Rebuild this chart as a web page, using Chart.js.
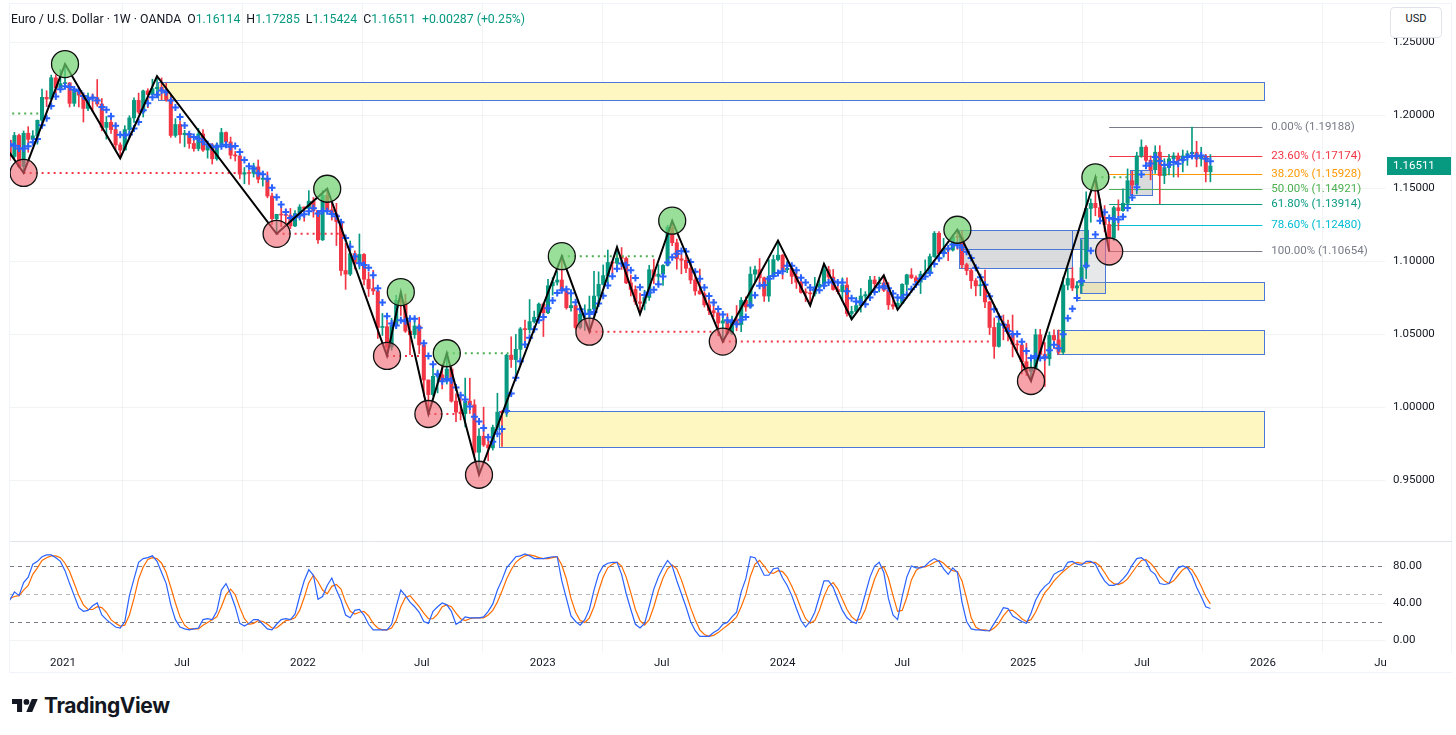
<!DOCTYPE html>
<html>
<head>
<meta charset="utf-8">
<script src="https://cdn.jsdelivr.net/npm/chart.js@4.4.1/dist/chart.umd.min.js"></script>
<style>
html,body{margin:0;padding:0;background:#fff;width:1456px;height:735px;overflow:hidden;font-family:Roboto,"Liberation Sans",sans-serif;}
#frame{position:absolute;left:9px;top:3px;width:1443px;height:670px;border:1px solid #f0f3fa;box-sizing:border-box;}
#wrap{position:absolute;left:0;top:0;width:1456px;height:680px;}
#hdr{position:absolute;left:11px;top:11px;font-size:12.3px;color:#131722;white-space:nowrap;line-height:16px;}
#hdr .k{margin-left:6px;}
#hdr .g{color:#089981;}
#usd{position:absolute;left:1390px;top:7px;width:52px;height:31px;background:#fff;border:1px solid #e0e3eb;border-radius:4px;box-sizing:border-box;font-size:11px;color:#131722;text-align:center;line-height:22px;}
#cover{position:absolute;left:1386px;top:653px;width:70px;height:19px;background:#fff;}
#brand{position:absolute;left:12px;top:692px;height:26px;display:flex;align-items:center;}
#brand span{font-family:Inter,Roboto,sans-serif;font-weight:700;font-size:21px;color:#131722;letter-spacing:-0.4px;margin-left:6px;}
</style>
</head>
<body>
<div id="frame"></div>
<div id="wrap"><canvas id="c" width="1456" height="680"></canvas></div>
<div id="hdr"><span>Euro / U.S. Dollar · 1W · OANDA</span><span class="k">O</span><span class="g">1.16114</span><span class="k">H</span><span class="g">1.17285</span><span class="k">L</span><span class="g">1.15424</span><span class="k">C</span><span class="g">1.16511</span><span class="k g">+0.00287 (+0.25%)</span></div>
<div id="usd">USD</div>
<div id="cover"></div>
<div id="brand"><svg width="26" height="19" viewBox="0 0 36 26"><path d="M14 22H7V11H0V4h14v18z" fill="#131722"/><circle cx="20" cy="8" r="4" fill="#131722"/><path d="M28 22h-8.2l7.6-18h8.2L28 22z" fill="#131722"/></svg><span>TradingView</span></div>
<script>
// ---------- DATA (weekly EUR/USD bars, first bar = week of 2020-10-12) ----------
const firstWeek = '2020-10-12';
const opens = [
1.1827,1.1716,1.1860,1.1647,1.1875,1.1833,1.1857,1.1964,1.2121,1.2110,
1.2255,1.2186,1.2215,1.2220,1.2080,1.2170,1.2136,1.2045,1.2120,1.2118,
1.2075,1.1915,1.1950,1.1900,1.1795,1.1760,1.1900,1.1980,1.2100,1.2020,
1.2165,1.2140,1.2180,1.2190,1.2165,1.2105,1.1860,1.1935,1.1865,1.1875,
1.1805,1.1770,1.1870,1.1760,1.1795,1.1700,1.1795,1.1880,1.1815,1.1725,
1.1720,1.1595,1.1605,1.1600,1.1645,1.1560,1.1565,1.1445,1.1290,1.1320,
1.1315,1.1312,1.1240,1.1325,1.1370,1.1360,1.1410,1.1345,1.1145,1.1450,
1.1350,1.1320,1.1270,1.0935,1.0910,1.1050,1.0985,1.1045,1.0875,1.0810,
1.0795,1.0545,1.0550,1.0410,1.0560,1.0730,1.0720,1.0520,1.0495,1.0555,
1.0425,1.0185,1.0085,1.0210,1.0220,1.0180,1.0260,1.0040,0.9965,0.9955,
1.0040,1.0015,0.9690,0.9800,0.9740,0.9720,0.9860,0.9965,0.9960,1.0355,
1.0325,1.0395,1.0535,1.0530,1.0585,1.0615,1.0705,1.0645,1.0830,1.0855,
1.0870,1.0795,1.0680,1.0695,1.0545,1.0635,1.0640,1.0670,1.0760,1.0840,
1.0900,1.0990,1.0985,1.1020,1.1018,1.0850,1.0805,1.0720,1.0710,1.0750,
1.0940,1.0895,1.0910,1.0970,1.1230,1.1125,1.1015,1.1005,1.0950,1.0870,
1.0795,1.0775,1.0700,1.0660,1.0645,1.0575,1.0590,1.0505,1.0595,1.0565,
1.0730,1.0685,1.0910,1.0940,1.0885,1.0760,1.0895,1.1010,1.1040,1.0940,
1.0950,1.0895,1.0855,1.0785,1.0782,1.0775,1.0820,1.0840,1.0940,1.0890,
1.0805,1.0790,1.0835,1.0640,1.0655,1.0695,1.0760,1.0770,1.0870,1.0845,
1.0850,1.0800,1.0700,1.0690,1.0710,1.0840,1.0905,1.0885,1.0855,1.0910,
1.0915,1.1030,1.1190,1.1050,1.1085,1.1075,1.1165,1.1163,1.0975,1.0935,
1.0865,1.0830,1.0835,1.0720,1.0545,1.0415,1.0575,1.0565,1.0505,1.0430,
1.0425,1.0310,1.0245,1.0270,1.0495,1.0360,1.0330,1.0490,1.0460,1.0375,
1.0835,1.0880,1.0815,1.0830,1.0955,1.1360,1.1395,1.1365,1.1300,1.1250,
1.1160,1.1365,1.1345,1.1395,1.1550,1.1520,1.1720,1.1780,1.1690,1.1625,
1.1745,1.1585,1.1640,1.1700,1.1720,1.1685,1.1720,1.1735,1.1745,1.1700,
1.1715,1.1611];
const highs = [
1.1830,1.1881,1.1870,1.1891,1.1920,1.1893,1.1965,1.2177,1.2166,1.2273,
1.2274,1.2310,1.2349,1.2222,1.2190,1.2189,1.2150,1.2150,1.2145,1.2243,
1.2113,1.1990,1.1990,1.1945,1.1810,1.1927,1.1995,1.2117,1.2150,1.2171,
1.2180,1.2245,1.2266,1.2254,1.2218,1.2143,1.1975,1.1960,1.1895,1.1880,
1.1830,1.1909,1.1900,1.1805,1.1805,1.1810,1.1909,1.1885,1.1849,1.1750,
1.1730,1.1640,1.1625,1.1670,1.1692,1.1615,1.1610,1.1465,1.1320,1.1383,
1.1355,1.1360,1.1345,1.1386,1.1370,1.1482,1.1435,1.1345,1.1483,1.1495,
1.1395,1.1395,1.1275,1.1121,1.1137,1.1070,1.1185,1.1050,1.0925,1.0936,
1.0795,1.0641,1.0593,1.0608,1.0765,1.0787,1.0773,1.0601,1.0615,1.0615,
1.0436,1.0185,1.0278,1.0254,1.0293,1.0368,1.0275,1.0090,1.0079,1.0198,
1.0197,1.0050,0.9853,0.9999,0.9809,0.9876,1.0094,0.9976,1.0362,1.0481,
1.0497,1.0545,1.0595,1.0736,1.0657,1.0713,1.0712,1.0875,1.0887,1.0929,
1.1033,1.0800,1.0805,1.0705,1.0691,1.0700,1.0760,1.0930,1.0926,1.0973,
1.1075,1.1000,1.1095,1.1092,1.1028,1.0904,1.0830,1.0780,1.0800,1.0971,
1.1012,1.0975,1.0975,1.1245,1.1276,1.1150,1.1046,1.1065,1.0990,1.0930,
1.0945,1.0790,1.0770,1.0737,1.0650,1.0640,1.0640,1.0622,1.0695,1.0750,
1.0755,1.0960,1.0965,1.1017,1.0890,1.1009,1.1040,1.1140,1.1045,1.0998,
1.0970,1.0932,1.0890,1.0810,1.0805,1.0888,1.0870,1.0981,1.0964,1.0942,
1.0843,1.0885,1.0885,1.0690,1.0752,1.0812,1.0790,1.0895,1.0895,1.0890,
1.0902,1.0852,1.0761,1.0750,1.0845,1.0910,1.0948,1.0898,1.0930,1.1008,
1.1048,1.1202,1.1202,1.1155,1.1100,1.1180,1.1214,1.1210,1.0985,1.0945,
1.0880,1.0905,1.0937,1.0725,1.0610,1.0597,1.0630,1.0595,1.0630,1.0456,
1.0440,1.0437,1.0353,1.0533,1.0532,1.0442,1.0514,1.0528,1.0528,1.0889,
1.0947,1.0955,1.0860,1.1146,1.1474,1.1425,1.1573,1.1425,1.1380,1.1295,
1.1375,1.1419,1.1495,1.1631,1.1615,1.1745,1.1830,1.1790,1.1720,1.1789,
1.1790,1.1700,1.1730,1.1742,1.1740,1.1760,1.1755,1.1918,1.1820,1.1779,
1.1730,1.1729];
const lows = [
1.1689,1.1703,1.1640,1.1603,1.1745,1.1800,1.1800,1.1925,1.2058,1.2110,
1.2130,1.2180,1.2190,1.2055,1.2060,1.2055,1.1952,1.2030,1.2023,1.2060,
1.1892,1.1835,1.1874,1.1762,1.1704,1.1760,1.1870,1.1950,1.2010,1.1986,
1.2050,1.2140,1.2133,1.2105,1.2094,1.1847,1.1848,1.1807,1.1782,1.1772,
1.1752,1.1755,1.1750,1.1705,1.1664,1.1690,1.1795,1.1800,1.1700,1.1685,
1.1563,1.1529,1.1525,1.1575,1.1535,1.1513,1.1433,1.1250,1.1185,1.1235,
1.1260,1.1222,1.1235,1.1280,1.1272,1.1313,1.1300,1.1121,1.1140,1.1340,
1.1280,1.1106,1.0902,1.0806,1.0900,1.0945,1.0945,1.0837,1.0757,1.0770,
1.0470,1.0490,1.0350,1.0389,1.0540,1.0627,1.0511,1.0359,1.0470,1.0365,
1.0072,0.9952,1.0075,1.0097,1.0124,1.0157,1.0033,0.9900,0.9911,0.9864,
0.9956,0.9668,0.9536,0.9730,0.9632,0.9705,0.9845,0.9730,0.9935,1.0271,
1.0225,1.0290,1.0445,1.0505,1.0575,1.0610,1.0483,1.0640,1.0766,1.0835,
1.0795,1.0670,1.0656,1.0533,1.0534,1.0524,1.0516,1.0635,1.0715,1.0835,
1.0830,1.0910,1.0965,1.0942,1.0845,1.0760,1.0702,1.0635,1.0665,1.0730,
1.0845,1.0835,1.0833,1.0965,1.1105,1.0944,1.0912,1.0920,1.0845,1.0766,
1.0772,1.0685,1.0632,1.0617,1.0488,1.0448,1.0496,1.0495,1.0522,1.0516,
1.0655,1.0680,1.0852,1.0830,1.0723,1.0723,1.0888,1.1000,1.0877,1.0920,
1.0845,1.0812,1.0780,1.0722,1.0695,1.0760,1.0796,1.0836,1.0870,1.0800,
1.0775,1.0725,1.0622,1.0601,1.0650,1.0650,1.0725,1.0765,1.0805,1.0788,
1.0790,1.0668,1.0670,1.0666,1.0710,1.0795,1.0880,1.0825,1.0777,1.0880,
1.0900,1.1025,1.1040,1.1026,1.1002,1.1068,1.1080,1.0953,1.0905,1.0812,
1.0761,1.0762,1.0681,1.0496,1.0333,1.0410,1.0460,1.0452,1.0343,1.0385,
1.0226,1.0215,1.0178,1.0265,1.0350,1.0141,1.0285,1.0400,1.0360,1.0360,
1.0803,1.0797,1.0733,1.0780,1.0880,1.1265,1.1310,1.1265,1.1200,1.1065,
1.1140,1.1211,1.1340,1.1370,1.1445,1.1460,1.1710,1.1660,1.1556,1.1600,
1.1392,1.1530,1.1590,1.1575,1.1575,1.1610,1.1655,1.1700,1.1645,1.1650,
1.1542,1.1542];
const closes = [
1.1716,1.1860,1.1647,1.1875,1.1833,1.1857,1.1964,1.2121,1.2110,1.2255,
1.2186,1.2215,1.2220,1.2080,1.2170,1.2136,1.2045,1.2120,1.2118,1.2075,
1.1915,1.1950,1.1900,1.1795,1.1760,1.1900,1.1980,1.2100,1.2020,1.2165,
1.2140,1.2180,1.2190,1.2165,1.2105,1.1860,1.1935,1.1865,1.1875,1.1805,
1.1770,1.1870,1.1760,1.1795,1.1700,1.1795,1.1880,1.1815,1.1725,1.1720,
1.1595,1.1605,1.1600,1.1645,1.1560,1.1565,1.1445,1.1290,1.1320,1.1315,
1.1312,1.1240,1.1325,1.1370,1.1360,1.1410,1.1345,1.1145,1.1450,1.1350,
1.1320,1.1270,1.0935,1.0910,1.1050,1.0985,1.1045,1.0875,1.0810,1.0795,
1.0545,1.0550,1.0410,1.0560,1.0730,1.0720,1.0520,1.0495,1.0555,1.0425,
1.0185,1.0085,1.0210,1.0220,1.0180,1.0260,1.0040,0.9965,0.9955,1.0040,
1.0015,0.9690,0.9800,0.9740,0.9720,0.9860,0.9965,0.9960,1.0355,1.0325,
1.0395,1.0535,1.0530,1.0585,1.0615,1.0705,1.0645,1.0830,1.0855,1.0870,
1.0795,1.0680,1.0695,1.0545,1.0635,1.0640,1.0670,1.0760,1.0840,1.0900,
1.0990,1.0985,1.1020,1.1018,1.0850,1.0805,1.0720,1.0710,1.0750,1.0940,
1.0895,1.0910,1.0970,1.1230,1.1125,1.1015,1.1005,1.0950,1.0870,1.0795,
1.0775,1.0700,1.0660,1.0645,1.0575,1.0590,1.0505,1.0595,1.0565,1.0730,
1.0685,1.0910,1.0940,1.0885,1.0760,1.0895,1.1010,1.1040,1.0940,1.0950,
1.0895,1.0855,1.0785,1.0782,1.0775,1.0820,1.0840,1.0940,1.0890,1.0805,
1.0790,1.0835,1.0640,1.0655,1.0695,1.0760,1.0770,1.0870,1.0845,1.0850,
1.0800,1.0700,1.0690,1.0710,1.0840,1.0905,1.0885,1.0855,1.0910,1.0915,
1.1030,1.1190,1.1050,1.1085,1.1075,1.1165,1.1163,1.0975,1.0935,1.0865,
1.0830,1.0835,1.0720,1.0545,1.0415,1.0575,1.0565,1.0505,1.0430,1.0425,
1.0310,1.0245,1.0270,1.0495,1.0360,1.0330,1.0490,1.0460,1.0375,1.0835,
1.0880,1.0815,1.0830,1.0955,1.1360,1.1395,1.1365,1.1300,1.1250,1.1160,
1.1365,1.1345,1.1395,1.1550,1.1520,1.1720,1.1780,1.1690,1.1625,1.1745,
1.1585,1.1640,1.1700,1.1720,1.1685,1.1720,1.1735,1.1745,1.1700,1.1715,
1.1611,1.1651];
// blue "+" trailing average markers
const crossLine = [
1.1800,1.1790,1.1770,1.1770,1.1786,1.1814,1.1835,1.1930,1.1977,1.2061,
1.2127,1.2177,1.2197,1.2191,1.2174,1.2164,1.2130,1.2110,1.2118,1.2099,
1.2055,1.2036,1.1992,1.1927,1.1864,1.1861,1.1867,1.1907,1.1952,1.2033,
1.2081,1.2121,1.2139,1.2168,1.2156,1.2100,1.2051,1.1986,1.1928,1.1868,
1.1850,1.1837,1.1816,1.1800,1.1779,1.1784,1.1786,1.1797,1.1783,1.1787,
1.1747,1.1692,1.1649,1.1633,1.1601,1.1595,1.1563,1.1501,1.1436,1.1387,
1.1336,1.1295,1.1302,1.1312,1.1321,1.1341,1.1362,1.1326,1.1342,1.1340,
1.1322,1.1307,1.1265,1.1157,1.1097,1.1030,1.0985,1.0973,1.0953,1.0902,
1.0814,1.0715,1.0622,1.0572,1.0559,1.0594,1.0588,1.0605,1.0604,1.0543,
1.0436,1.0349,1.0292,1.0225,1.0176,1.0191,1.0182,1.0133,1.0080,1.0052,
1.0003,0.9933,0.9900,0.9857,0.9793,0.9762,0.9817,0.9849,0.9972,1.0093,
1.0200,1.0314,1.0428,1.0474,1.0532,1.0594,1.0616,1.0676,1.0730,1.0781,
1.0799,1.0806,1.0779,1.0717,1.0670,1.0639,1.0637,1.0650,1.0709,1.0762,
1.0832,1.0895,1.0947,1.0983,1.0973,1.0936,1.0883,1.0821,1.0767,1.0785,
1.0803,1.0841,1.0893,1.0989,1.1026,1.1050,1.1069,1.1065,1.0993,1.0927,
1.0879,1.0818,1.0760,1.0715,1.0671,1.0634,1.0595,1.0582,1.0566,1.0597,
1.0616,1.0697,1.0766,1.0830,1.0836,1.0878,1.0898,1.0918,1.0929,1.0967,
1.0967,1.0936,1.0885,1.0853,1.0818,1.0803,1.0800,1.0831,1.0853,1.0859,
1.0853,1.0852,1.0792,1.0745,1.0723,1.0717,1.0704,1.0750,1.0788,1.0819,
1.0827,1.0813,1.0777,1.0750,1.0748,1.0769,1.0806,1.0839,1.0879,1.0894,
1.0919,1.0980,1.1019,1.1054,1.1086,1.1113,1.1108,1.1093,1.1063,1.1021,
1.0954,1.0888,1.0837,1.0759,1.0669,1.0618,1.0564,1.0521,1.0498,1.0500,
1.0447,1.0383,1.0336,1.0349,1.0336,1.0340,1.0389,1.0427,1.0403,1.0498,
1.0608,1.0673,1.0747,1.0863,1.0968,1.1071,1.1181,1.1275,1.1334,1.1294,
1.1288,1.1284,1.1303,1.1363,1.1435,1.1506,1.1593,1.1652,1.1667,1.1712,
1.1685,1.1657,1.1659,1.1678,1.1666,1.1693,1.1712,1.1721,1.1717,1.1723,
1.1701,1.1684];
// Stochastic %K / %D
const stochK = [
43,52,48,62,68,82,85,90,92,92, 89,85,75,61,48,35,31,32,37,40,
27,22,18,14,13,20,48,66,84,88, 89,91,85,73,61,38,22,14,12,11,
12,13,22,23,22,31,54,61,50,36, 18,15,18,22,22,17,12,11,17,22,
23,22,28,47,64,76,70,44,47,59, 67,54,43,27,24,32,33,27,17,11,
11,11,11,17,36,54,48,41,36,30, 20,18,31,36,40,38,31,17,20,25,
24,24,24,25,31,39,54,65,78,84, 90,91,93,91,88,88,88,89,90,90,
64,45,26,20,16,22,33,54,71,80, 83,84,84,71,50,33,17,13,18,36,
55,68,78,86,80,64,50,36,20,10, 4,4,4,8,11,17,19,25,30,52,
66,90,89,80,70,70,77,78,67,59, 48,34,21,14,20,30,47,64,64,57,
44,32,24,20,18,32,50,68,80,84, 73,45,27,22,47,68,80,78,78,80,
85,88,85,77,71,78,73,41,20,12, 11,11,10,10,18,26,35,34,26,23,
20,18,29,43,52,58,62,71,74,76, 84,85,82,81,85,85,82,72,64,59,
59,61,66,72,81,88,89,85,75,71, 61,60,61,71,78,80,78,70,57,47,
36,34];
const stochD = [
45,47,48,54,59,71,78,86,89,91, 91,89,83,74,61,48,38,33,33,36,
35,30,22,18,15,16,27,45,66,79, 87,89,88,83,73,57,40,25,16,12,
12,12,16,19,22,25,36,49,55,49, 35,23,17,18,21,20,17,13,13,17,
21,22,24,32,46,62,70,63,54,50, 58,60,55,41,31,28,30,31,26,18,
13,11,11,13,21,36,46,48,42,36, 29,23,23,28,36,38,36,29,23,21,
23,24,24,24,27,32,41,53,66,76, 84,88,91,92,91,89,88,88,89,90,
81,66,45,30,21,19,24,36,53,68, 78,82,84,80,68,51,33,21,16,22,
36,53,67,77,81,77,65,50,35,22, 11,6,4,5,8,12,16,20,25,36,
49,69,82,86,80,73,72,75,74,68, 58,47,34,23,18,21,32,47,58,62,
55,44,33,25,21,23,33,50,66,77, 79,67,48,31,32,46,65,75,79,79,
81,84,86,83,78,75,74,64,45,24, 14,11,11,10,13,18,26,32,32,28,
23,20,22,30,41,51,57,64,69,74, 78,82,84,83,83,84,84,80,73,65,
61,60,62,66,73,80,86,87,83,77, 69,64,61,64,70,76,79,76,68,58,
47,39];
// zigzag pivots
const pivotDates = ['2020-08-31','2020-11-02','2021-01-04','2021-03-29','2021-05-24','2021-11-22','2022-02-07','2022-05-09','2022-05-30','2022-07-11','2022-08-08','2022-09-26','2023-01-30','2023-03-13','2023-04-24','2023-05-29','2023-07-17','2023-10-02','2023-12-25','2024-02-12','2024-03-04','2024-04-15','2024-06-03','2024-06-24','2024-09-23','2025-01-13','2025-04-21','2025-05-12'];
const pivotPrices = [1.2011,1.1603,1.2349,1.1704,1.2266,1.1186,1.1495,1.0350,1.0787,0.9952,1.0368,0.9536,1.1033,1.0516,1.1095,1.0635,1.1276,1.0448,1.1140,1.0695,1.0981,1.0601,1.0902,1.0666,1.1214,1.0178,1.1573,1.1065];
// marked swing highs / lows
const highMarkDates = ['2021-01-04','2022-02-07','2022-05-30','2022-08-08','2023-01-30','2023-07-17','2024-09-23','2025-04-21'];
const highMarkPrices = [1.2349,1.1495,1.0787,1.0368,1.1033,1.1276,1.1214,1.1573];
const lowMarkDates = ['2020-11-02','2021-11-22','2022-05-09','2022-07-11','2022-09-26','2023-03-13','2023-10-02','2025-01-13','2025-05-12'];
const lowMarkPrices = [1.1603,1.1186,1.0350,0.9952,0.9536,1.0516,1.0448,1.0178,1.1065];
// dotted break levels
const levelStart = ['2020-08-31','2020-11-02','2021-11-22','2022-05-09','2022-07-11','2022-08-08','2023-01-30','2023-03-13','2023-10-02','2025-04-21'];
const levelEnd   = ['2020-11-30','2021-09-29','2022-03-04','2022-07-05','2022-08-22','2022-11-10','2023-06-22','2023-09-22','2024-11-14','2025-06-12'];
const levelPrice = [1.2011,1.1603,1.1186,1.0350,0.9952,1.0368,1.1033,1.0516,1.0448,1.1573];
const levelIsHigh = [true,false,false,false,false,true,true,false,false,true];
// zones
const yellowStart = ['2021-05-26','2022-10-27','2025-03-22','2025-02-21'];
const yellowEnd   = ['2026-01-02','2026-01-02','2026-01-02','2026-01-02'];
const yellowTop   = [1.2226,0.9973,1.0856,1.0527];
const yellowBottom= [1.2103,0.9726,1.0733,1.0363];
const grayStart = ['2024-09-25','2024-09-25','2025-03-16','2025-03-29','2025-06-13'];
const grayEnd   = ['2025-03-16','2025-03-16','2025-04-10','2025-05-05','2025-07-16'];
const grayTop   = [1.1214,1.1080,1.1214,1.1158,1.1623];
const grayBottom= [1.1080,1.0952,1.1080,1.0781,1.1452];
// fibonacci retracement
const fibStart = '2025-05-12', fibEnd = '2025-12-31';
const fibPct = [0,23.6,38.2,50,61.8,78.6,100];
const fibPrices = [1.19188,1.17174,1.15928,1.14921,1.13914,1.12480,1.10654];
// axes
const priceTicks = [0.95,1.00,1.05,1.10,1.15,1.20,1.25];
const stochTicks = [0,40,80];
const stochLevels = [80,50,20];
const timeTickDates = ['2021-01-01','2021-07-01','2022-01-01','2022-07-01','2023-01-01','2023-07-01','2024-01-01','2024-07-01','2025-01-01','2025-07-01','2026-01-01','2026-07-01'];
const timeTickLabels = ['2021','Jul','2022','Jul','2023','Jul','2024','Jul','2025','Jul','2026','Jul'];
const lastPrice = 1.16511;

// ---------- helpers & styles ----------
const FONT = 'Roboto, "Liberation Sans", sans-serif';
const UP = '#089981', DOWN = '#f23645', GRID = 'rgba(42,46,57,0.06)';
const FIB_COLORS = ['#787b86','#f23645','#ff9800','#4caf50','#089981','#00bcd4','#787b86'];
const W0 = Date.UTC(2020,9,12);
function idx(s){ const p = s.split('-').map(Number); return (Date.UTC(p[0],p[1]-1,p[2]) - W0) / (7*864e5); }

const candleColor = ctx => closes[ctx.dataIndex] >= opens[ctx.dataIndex] ? UP : DOWN;
const datasets = [];

// stochastic
datasets.push({type:'line', yAxisID:'y2', data: stochD.map((v,i)=>({x:i,y:v})), borderColor:'#ff6d00', borderWidth:1.2, pointRadius:0, tension:0, order:9});
datasets.push({type:'line', yAxisID:'y2', data: stochK.map((v,i)=>({x:i,y:v})), borderColor:'#2962ff', borderWidth:1.2, pointRadius:0, tension:0, order:8});
// candles
datasets.push({type:'bar', yAxisID:'y', data: lows.map((l,i)=>({x:i,y:[l,highs[i]]})), backgroundColor:candleColor, barThickness:1, grouped:false, order:7});
datasets.push({type:'bar', yAxisID:'y', data: opens.map((o,i)=>({x:i,y:[o,closes[i]]})), backgroundColor:candleColor, barThickness:3.4, minBarLength:1, grouped:false, order:6});
// crosses
datasets.push({type:'line', yAxisID:'y', data: crossLine.map((v,i)=>({x:i,y:v})), showLine:false, pointStyle:'cross', pointRadius:3.5, pointBorderWidth:2, pointBorderColor:'#2962ff', pointBackgroundColor:'#2962ff', order:5});
// dotted levels
levelStart.forEach((d,k)=>{
  datasets.push({type:'line', yAxisID:'y', data:[{x:idx(d),y:levelPrice[k]},{x:idx(levelEnd[k]),y:levelPrice[k]}], borderColor: levelIsHigh[k] ? '#4caf50' : '#f23645', borderWidth:2, borderDash:[2,4], pointRadius:0, order:4});
});
// zigzag
datasets.push({type:'line', yAxisID:'y', data: pivotDates.map((d,k)=>({x:idx(d),y:pivotPrices[k]})), borderColor:'#000', borderWidth:2, pointRadius:0, tension:0, order:3});
// circles
datasets.push({type:'line', yAxisID:'y', data: highMarkDates.map((d,k)=>({x:idx(d),y:highMarkPrices[k]})), showLine:false, pointRadius:13.5, pointBorderWidth:1.3, pointBorderColor:'#111', pointBackgroundColor:'rgba(110,210,110,0.7)', order:1});
datasets.push({type:'line', yAxisID:'y', data: lowMarkDates.map((d,k)=>({x:idx(d),y:lowMarkPrices[k]})), showLine:false, pointRadius:13.5, pointBorderWidth:1.3, pointBorderColor:'#111', pointBackgroundColor:'rgba(240,100,110,0.6)', order:1});

const overlay = {
  id:'overlay',
  beforeDatasetsDraw(chart){
    const {ctx, chartArea:a, scales:{x,y,y2}} = chart;
    ctx.save();
    ctx.beginPath(); ctx.rect(a.left, a.top, a.right-a.left, a.bottom-a.top); ctx.clip();
    // yellow zones
    yellowStart.forEach((d,k)=>{
      const x0 = Math.round(x.getPixelForValue(idx(d)))+0.5, x1 = Math.round(x.getPixelForValue(idx(yellowEnd[k])))+0.5;
      const y0 = Math.round(y.getPixelForValue(yellowTop[k]))+0.5, y1 = Math.round(y.getPixelForValue(yellowBottom[k]))+0.5;
      ctx.fillStyle = '#fff7c2'; ctx.fillRect(x0,y0,x1-x0,y1-y0);
      ctx.strokeStyle = '#4a78d9'; ctx.lineWidth = 1; ctx.strokeRect(x0,y0,x1-x0,y1-y0);
    });
    // gray zones
    grayStart.forEach((d,k)=>{
      const x0 = Math.round(x.getPixelForValue(idx(d)))+0.5, x1 = Math.round(x.getPixelForValue(idx(grayEnd[k])))+0.5;
      const y0 = Math.round(y.getPixelForValue(grayTop[k]))+0.5, y1 = Math.round(y.getPixelForValue(grayBottom[k]))+0.5;
      ctx.fillStyle = k===3 ? 'rgba(160,163,170,0.25)' : 'rgba(150,152,158,0.35)'; ctx.fillRect(x0,y0,x1-x0,y1-y0);
      ctx.strokeStyle = '#4a78d9'; ctx.lineWidth = 1; ctx.strokeRect(x0,y0,x1-x0,y1-y0);
    });
    // fib lines
    const fx0 = x.getPixelForValue(idx(fibStart)), fx1 = x.getPixelForValue(idx(fibEnd));
    fibPrices.forEach((p,k)=>{
      const py = Math.round(y.getPixelForValue(p))+0.5;
      ctx.strokeStyle = FIB_COLORS[k]; ctx.lineWidth = 1;
      ctx.beginPath(); ctx.moveTo(fx0,py); ctx.lineTo(fx1,py); ctx.stroke();
    });
    // stochastic levels
    stochLevels.forEach(v=>{
      const py = Math.round(y2.getPixelForValue(v))+0.5;
      ctx.strokeStyle = v===50 ? 'rgba(120,123,134,0.55)' : '#787b86'; ctx.lineWidth = 1; ctx.setLineDash([4,4]);
      ctx.beginPath(); ctx.moveTo(a.left,py); ctx.lineTo(a.right,py); ctx.stroke();
    });
    ctx.setLineDash([]);
    ctx.restore();
    // pane separator
    ctx.save();
    const sy = Math.round(y.bottom)+0.5;
    ctx.strokeStyle = '#e0e3eb'; ctx.lineWidth = 1;
    ctx.beginPath(); ctx.moveTo(a.left, sy); ctx.lineTo(chart.width-4, sy); ctx.stroke();
    ctx.restore();
  },
  afterDatasetsDraw(chart){
    const {ctx, scales:{x,y}} = chart;
    ctx.save();
    ctx.font = '11.5px ' + FONT; ctx.textBaseline = 'middle'; ctx.textAlign = 'left';
    const lx = x.getPixelForValue(idx(fibEnd)) + 9;
    fibPrices.forEach((p,k)=>{
      ctx.fillStyle = FIB_COLORS[k];
      ctx.fillText(fibPct[k].toFixed(2) + '% (' + p.toFixed(5) + ')', lx, y.getPixelForValue(p));
    });
    ctx.restore();
  },
  afterDraw(chart){
    const {ctx, chartArea:a, scales:{y}} = chart;
    const py = Math.round(y.getPixelForValue(lastPrice));
    ctx.save();
    ctx.fillStyle = '#089981'; ctx.fillRect(a.right+2, py-9, 64, 18);
    ctx.fillStyle = '#fff'; ctx.font = '11.5px ' + FONT; ctx.textBaseline = 'middle'; ctx.textAlign = 'left';
    ctx.fillText(lastPrice.toFixed(5), a.right+8, py+0.5);
    ctx.restore();
  }
};

new Chart(document.getElementById('c'), {
  type:'bar',
  data:{datasets},
  options:{
    responsive:false, animation:false, events:[],
    layout:{autoPadding:false, padding:{top:4,left:10,right:0,bottom:0}},
    plugins:{legend:{display:false}, tooltip:{enabled:false}},
    scales:{
      x:{type:'linear', position:'bottom', min:0.04, max:298.96, offset:false,
         grid:{color:GRID, drawTicks:false}, border:{display:false},
         afterBuildTicks:s=>{ s.ticks = timeTickDates.map(d=>({value:idx(d)})); },
         ticks:{autoSkip:false, maxRotation:0, padding:4, color:'#131722', font:{size:11.5, family:FONT}, callback:(v,i)=>timeTickLabels[i]},
         afterFit:s=>{ s.height = 28; s.paddingLeft = 0; s.paddingRight = 0; }},
      y:{type:'linear', position:'right', stack:'pane', stackWeight:537, min:0.90822, max:1.27603,
         grid:{color:GRID, drawTicks:false}, border:{display:false},
         afterBuildTicks:s=>{ s.ticks = priceTicks.map(v=>({value:v})); },
         ticks:{padding:8, color:'#131722', font:{size:11.5, family:FONT}, callback:v=>Number(v).toFixed(5)},
         afterFit:s=>{ s.width = 71; s.paddingTop = 0; s.paddingBottom = 0; }},
      y2:{type:'linear', position:'right', stack:'pane', stackWeight:111, min:-12.97, max:107.03,
         grid:{color:GRID, drawTicks:false}, border:{display:false},
         afterBuildTicks:s=>{ s.ticks = stochTicks.map(v=>({value:v})); },
         ticks:{padding:8, color:'#131722', font:{size:11.5, family:FONT}, callback:v=>Number(v).toFixed(2)},
         afterFit:s=>{ s.width = 71; s.paddingTop = 0; s.paddingBottom = 0; }}
    }
  },
  plugins:[overlay]
});
</script>
</body>
</html>
